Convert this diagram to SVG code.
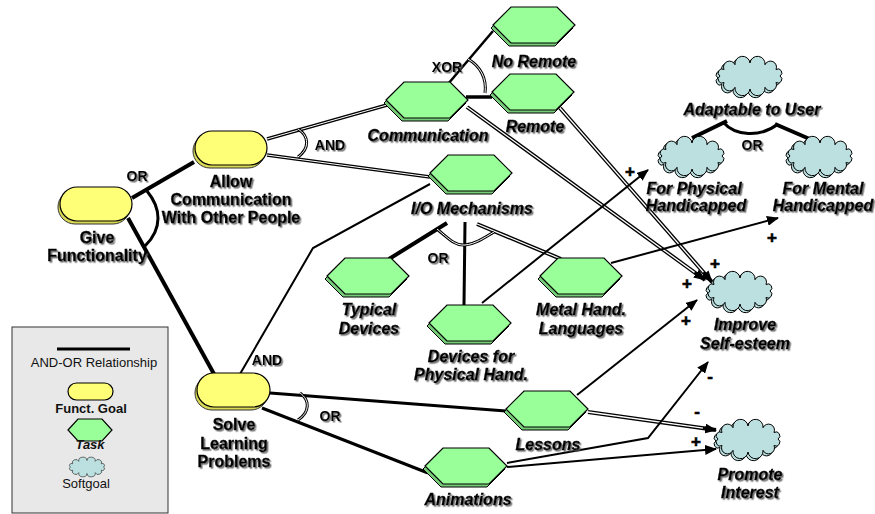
<svg xmlns="http://www.w3.org/2000/svg" xmlns:xlink="http://www.w3.org/1999/xlink" width="875" height="514" viewBox="0 0 875 514">
<defs>
<style>
.ln{fill:none;stroke:#000;stroke-width:2}
.m3{fill:none;stroke:#000;stroke-width:3}
.th{fill:none;stroke:#000;stroke-width:4}
.dbo{fill:none;stroke:#000;stroke-width:4}
.dbi{fill:none;stroke:#fff;stroke-width:1.3}
.t{font-family:"Liberation Sans",Arial,sans-serif;font-weight:bold;font-size:16px;text-anchor:middle;fill:#000;stroke:#000;stroke-width:0.3;filter:url(#sh)}
.i{font-style:italic}
.r{font-family:"Liberation Sans",Arial,sans-serif;font-weight:bold;font-size:14px;text-anchor:middle;fill:#000;filter:url(#sh)}
.pm{font-family:"Liberation Sans",Arial,sans-serif;font-weight:bold;font-size:17px;text-anchor:middle;fill:#000;stroke:#000;stroke-width:0.6}
.lg{font-family:"Liberation Sans",Arial,sans-serif;font-size:13px;text-anchor:middle;fill:#111}
.goal{fill:#FFFF77;stroke:#000;stroke-width:1.2}
.goals{fill:#D9D955;stroke:#333;stroke-width:1}
.task{fill:#99FF99;stroke:#000;stroke-width:1.2}
.tasks{fill:#77CC77;stroke:#000;stroke-width:1}
.soft{fill:#BCE0E0;stroke:#000;stroke-width:1}
</style>
<filter id="sh" x="-10%" y="-20%" width="130%" height="160%">
<feDropShadow dx="1.5" dy="1.5" stdDeviation="0.4" flood-color="#555" flood-opacity="0.85"/>
</filter>
<marker id="arr" markerWidth="12" markerHeight="10" refX="11" refY="5" orient="auto" markerUnits="userSpaceOnUse">
<path d="M0,0 L12,5 L0,10 Z" fill="#000"/>
</marker>
<polygon id="hex" points="-41,0 -23,-18 23,-18 41,0 23,18 -23,18"/>
<path id="cloud" d="M30,0 A1,1 0 0 1 26,6.5 A1,1 0 0 1 15,11.3 A1,1 0 0 1 0,13 A1,1 0 0 1 -15,11.3 A1,1 0 0 1 -26,6.5 A1,1 0 0 1 -30,0 A1,1 0 0 1 -26,-6.5 A1,1 0 0 1 -15,-11.3 A1,1 0 0 1 0,-13 A1,1 0 0 1 15,-11.3 A1,1 0 0 1 26,-6.5 A1,1 0 0 1 30,0 Z"/>
</defs>
<rect width="875" height="514" fill="#fff"/>

<g id="connectors">
<path class="th" d="M132,198 L194,162"/>
<path class="th" d="M128,218 L214,374"/>
<path class="m3" d="M147,191 C161,208 163,228 145,246"/>
<text class="r" x="137" y="181">OR</text>

<path class="dbo" d="M267,139 L387,105" style="stroke-width:3.5"/>
<path class="dbi" d="M267,139 L387,105" style="stroke-width:1"/>
<path class="dbo" d="M267,155 L430,177" style="stroke-width:3.5"/>
<path class="dbi" d="M267,155 L430,177" style="stroke-width:1"/>
<path class="dbo" d="M298,129 C309,136 310,148 298,157" style="stroke-width:3"/>
<path class="dbi" d="M298,129 C309,136 310,148 298,157" style="stroke-width:1"/>
<text class="r" x="330" y="150">AND</text>

<path class="ln" d="M448,84 L493,31" style="stroke-width:2.5"/>
<path class="th" d="M466,97 L492,97" style="stroke-width:3.5"/>
<path class="dbo" d="M468,59 C480,66 487,78 485,93" style="stroke-width:3"/>
<path class="dbi" d="M468,59 C480,66 487,78 485,93" style="stroke-width:1"/>
<text class="r" x="447" y="72">XOR</text>

<path class="th" d="M447,223 L389,259"/>
<path class="m3" d="M465,222 L464,305"/>
<path class="dbo" d="M477,224 L561,259"/>
<path class="dbi" d="M477,224 L561,259" style="stroke-width:1.2"/>
<path class="dbo" d="M437,229 C448,238 455,246 465,245 C475,244 484,238 494,232" style="stroke-width:3"/>
<path class="dbi" d="M437,229 C448,238 455,246 465,245 C475,244 484,238 494,232" style="stroke-width:1"/>
<text class="r" x="438" y="263">OR</text>

<path class="ln" d="M240,374 L313,248 L430,184"/>
<text class="r" x="267" y="365">AND</text>

<path class="m3" d="M270,393 L506,411"/>
<path class="m3" d="M262,408 L428,473"/>
<path class="dbo" d="M300,393 C310,400 310,412 298,420" style="stroke-width:3"/>
<path class="dbi" d="M300,393 C310,400 310,412 298,420" style="stroke-width:1"/>
<text class="r" x="330" y="421">OR</text>

<path class="th" d="M727,121 L692,138"/>
<path class="th" d="M775,124 L812,140"/>
<path class="m3" d="M723,122 C735,136 760,138 778,124"/>
<text class="r" x="752" y="150">OR</text>

<path class="dbo" d="M467,107 L705,280" marker-end="url(#arr)"/>
<path class="dbi" d="M467,107 L694.5,272.4"/>
<path class="dbo" d="M560,108 L712,282" marker-end="url(#arr)"/>
<path class="dbi" d="M560,108 L703.4,272.2"/>
<path class="ln" d="M482,303 L648,170" marker-end="url(#arr)"/>
<path class="ln" d="M611,263 L778,218" marker-end="url(#arr)"/>
<path class="ln" d="M577,395 L697,300" marker-end="url(#arr)"/>
<path class="dbo" d="M588,412 L716,430" marker-end="url(#arr)"/>
<path class="dbi" d="M588,412 L703,428.2"/>
<path class="ln" d="M507,463 L648,438 L708,362" marker-end="url(#arr)"/>
<path class="ln" d="M507,467 L716,449" marker-end="url(#arr)"/>

<text class="pm" x="630" y="177">+</text>
<text class="pm" x="772" y="243">+</text>
<text class="pm" x="715" y="269">+</text>
<text class="pm" x="687" y="289">+</text>
<text class="pm" x="686" y="326">+</text>
<text class="pm" x="710" y="382">-</text>
<text class="pm" x="697" y="417">-</text>
<text class="pm" x="696" y="447">+</text>
</g>

<g id="give-functionality">
<rect class="goals" x="58" y="190" width="72" height="34" rx="17"/>
<rect class="goal" x="60" y="187" width="72" height="34" rx="17"/>
<text class="t" x="97" y="243">Give</text>
<text class="t" x="97" y="261">Functionality</text>
</g>
<g id="allow-communication">
<rect class="goals" x="193" y="134" width="72" height="34" rx="17"/>
<rect class="goal" x="195" y="131" width="72" height="34" rx="17"/>
<text class="t" x="231" y="187">Allow</text>
<text class="t" x="231" y="205">Communication</text>
<text class="t" x="231" y="223">With Other People</text>
</g>
<g id="solve-learning">
<rect class="goals" x="195" y="376" width="73" height="34" rx="17"/>
<rect class="goal" x="197" y="373" width="73" height="34" rx="17"/>
<text class="t" x="234" y="430">Solve</text>
<text class="t" x="234" y="449">Learning</text>
<text class="t" x="234" y="467">Problems</text>
</g>

<g id="communication">
<use xlink:href="#hex" class="tasks" x="425" y="103"/>
<use xlink:href="#hex" class="task" x="427" y="100"/>
<text class="t i" x="428" y="141">Communication</text>
</g>
<g id="no-remote">
<use xlink:href="#hex" class="tasks" x="532" y="28"/>
<use xlink:href="#hex" class="task" x="534" y="25"/>
<text class="t i" x="534" y="67">No Remote</text>
</g>
<g id="remote">
<use xlink:href="#hex" class="tasks" x="531" y="95"/>
<use xlink:href="#hex" class="task" x="533" y="92"/>
<text class="t i" x="535" y="132">Remote</text>
</g>
<g id="io-mechanisms">
<use xlink:href="#hex" class="tasks" x="469" y="176"/>
<use xlink:href="#hex" class="task" x="471" y="173"/>
<text class="t i" x="472" y="214">I/O Mechanisms</text>
</g>
<g id="typical-devices">
<use xlink:href="#hex" class="tasks" x="366" y="279"/>
<use xlink:href="#hex" class="task" x="368" y="276"/>
<text class="t i" x="369" y="315">Typical</text>
<text class="t i" x="369" y="334">Devices</text>
</g>
<g id="devices-physical">
<use xlink:href="#hex" class="tasks" x="468" y="326"/>
<use xlink:href="#hex" class="task" x="470" y="323"/>
<text class="t i" x="471" y="362">Devices for</text>
<text class="t i" x="471" y="380">Physical Hand.</text>
</g>
<g id="metal-hand">
<use xlink:href="#hex" class="tasks" x="579" y="279"/>
<use xlink:href="#hex" class="task" x="581" y="276"/>
<text class="t i" x="581" y="315">Metal Hand.</text>
<text class="t i" x="581" y="334">Languages</text>
</g>
<g id="lessons">
<use xlink:href="#hex" class="tasks" x="545" y="412"/>
<use xlink:href="#hex" class="task" x="547" y="409"/>
<text class="t i" x="548" y="450">Lessons</text>
</g>
<g id="animations">
<use xlink:href="#hex" class="tasks" x="464" y="469"/>
<use xlink:href="#hex" class="task" x="466" y="466"/>
<text class="t i" x="468" y="505">Animations</text>
</g>

<g id="adaptable">
<use xlink:href="#cloud" class="soft" x="748" y="78"/>
<use xlink:href="#cloud" class="soft" x="750" y="76"/>
<text class="t i" x="752" y="115">Adaptable to User</text>
</g>
<g id="for-physical">
<use xlink:href="#cloud" class="soft" x="690" y="158"/>
<use xlink:href="#cloud" class="soft" x="692" y="156"/>
<text class="t i" x="694" y="194">For Physical</text>
<text class="t i" x="696" y="211">Handicapped</text>
</g>
<g id="for-mental">
<use xlink:href="#cloud" class="soft" x="818" y="158"/>
<use xlink:href="#cloud" class="soft" x="820" y="156"/>
<text class="t i" x="823" y="194">For Mental</text>
<text class="t i" x="823" y="211">Handicapped</text>
</g>
<g id="improve-self-esteem">
<use xlink:href="#cloud" class="soft" x="738" y="293"/>
<use xlink:href="#cloud" class="soft" x="740" y="291"/>
<text class="t i" x="745" y="330">Improve</text>
<text class="t i" x="745" y="349">Self-esteem</text>
</g>
<g id="promote-interest">
<use xlink:href="#cloud" class="soft" x="746" y="441"/>
<use xlink:href="#cloud" class="soft" x="748" y="439"/>
<text class="t i" x="750" y="480">Promote</text>
<text class="t i" x="750" y="498">Interest</text>
</g>

<g id="legend">
<rect x="12" y="327" width="156" height="186" fill="#E8E8E8" stroke="#333" stroke-width="1"/>
<line x1="57" y1="349" x2="130" y2="349" stroke="#000" stroke-width="3"/>
<text class="lg" x="94" y="367">AND-OR Relationship</text>
<rect class="goal" x="68" y="383" width="45" height="17" rx="8.5"/>
<text class="lg" x="91" y="413" style="font-weight:bold">Funct. Goal</text>
<polygon class="task" points="68,430 78,419 102,419 112,430 102,441 78,441"/>
<text class="lg" x="90" y="449" style="font-weight:bold;font-style:italic">Task</text>
<use xlink:href="#cloud" class="soft" transform="translate(87,467) scale(0.55,0.5)"/>
<text class="lg" x="86" y="488">Softgoal</text>
</g>
</svg>
